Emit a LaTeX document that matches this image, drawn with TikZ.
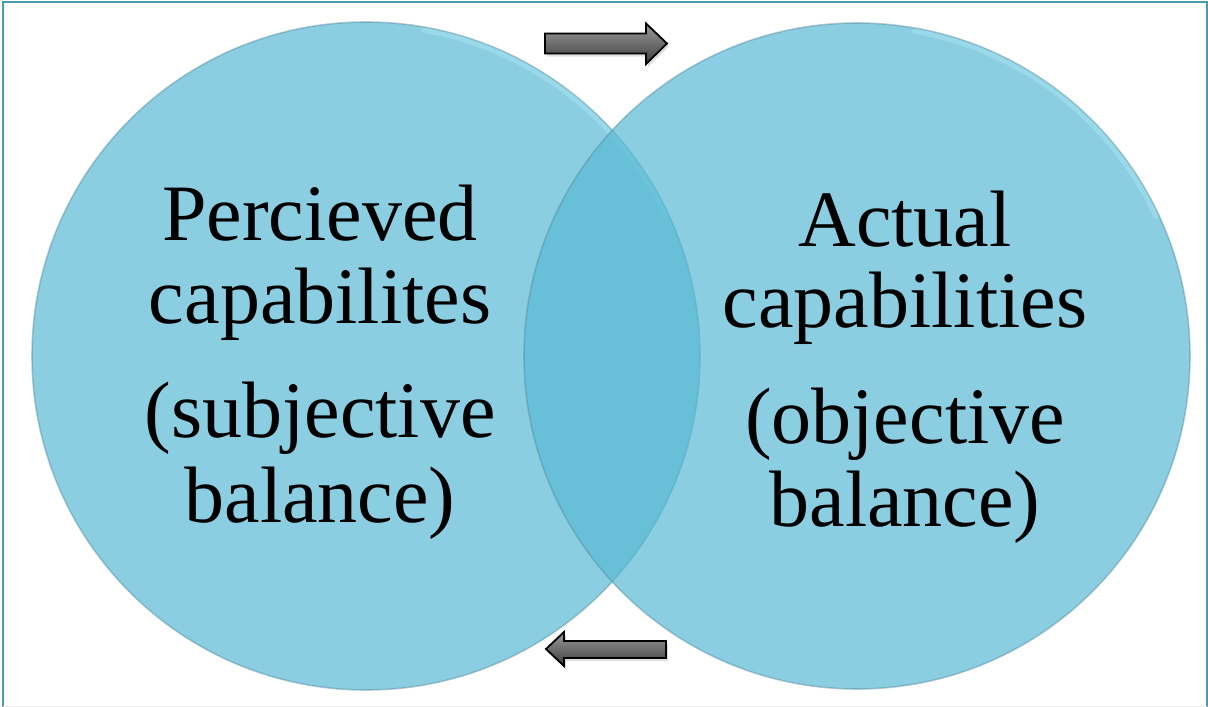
\documentclass[tikz,border=0pt]{standalone}
\usepackage{fontspec}
\setmainfont{Liberation Serif}
\usetikzlibrary{shadows}
\definecolor{venn}{RGB}{86,184,212}
\definecolor{frameteal}{RGB}{74,155,176}
\definecolor{rimdark}{RGB}{85,140,160}
\definecolor{rimlight}{RGB}{180,240,252}
\begin{document}
\begin{tikzpicture}[x=1pt,y=-1pt,
  vennfill/.style={fill=venn, fill opacity=0.68},
  vennrim/.style={draw=rimdark, draw opacity=0.45, line width=1.6pt},
  vennglow/.style={draw=rimlight, draw opacity=0.35, line width=5pt, line cap=round},
  vennlabel/.style={font=\fontsize{80}{84}\selectfont, anchor=base, inner sep=0pt},
  arrowbody/.style={draw=black, line width=1.8pt, line join=miter,
    top color={rgb,255:red,155;green,155;blue,155},
    bottom color={rgb,255:red,62;green,62;blue,62},
    drop shadow={opacity=0.25, shadow xshift=2pt, shadow yshift=-3pt}}
]
\useasboundingbox (0,0) rectangle (1208,707);
\fill[white] (0,0) rectangle (1208,707);

% frame
\draw[frameteal, line width=2pt] (3,707) -- (3,1.5) -- (1206.5,1.5) -- (1206.5,707);
\draw[black!8, line width=1pt] (3,706) -- (1206.5,706);

% left circle
\fill[vennfill] (366,356) circle[radius=334];
\draw[vennrim] (366,356) circle[radius=334];
\draw[vennglow] (366,356) ++(-80:331) arc[start angle=-80, end angle=-25, radius=331];

% right circle
\fill[vennfill] (857,356) circle[radius=333];
\draw[vennrim] (857,356) circle[radius=333];
\draw[vennglow] (857,356) ++(-80:330) arc[start angle=-80, end angle=-25, radius=330];

% labels
\node[vennlabel] (p1) at (320,240) {Percieved};
\node[vennlabel] (p2) at (320,323) {capabilites};
\node[vennlabel] (p3) at (320,437) {(subjective};
\node[vennlabel] (p4) at (320,522) {balance)};
\node[vennlabel] (a1) at (905,246) {Actual};
\node[vennlabel] (a2) at (905,327) {capabilities};
\node[vennlabel] (a3) at (905,443) {(objective};
\node[vennlabel] (a4) at (905,526) {balance)};

% arrows
\draw[arrowbody] (545,33.5) -- (646,33.5) -- (646,23.5) -- (667,43.5)
  -- (646,64) -- (646,53.5) -- (545,53.5) -- cycle;
\draw[arrowbody] (666,641) -- (564,641) -- (564,632) -- (546,649)
  -- (564,666) -- (564,658) -- (666,658) -- cycle;
\end{tikzpicture}
\end{document}
